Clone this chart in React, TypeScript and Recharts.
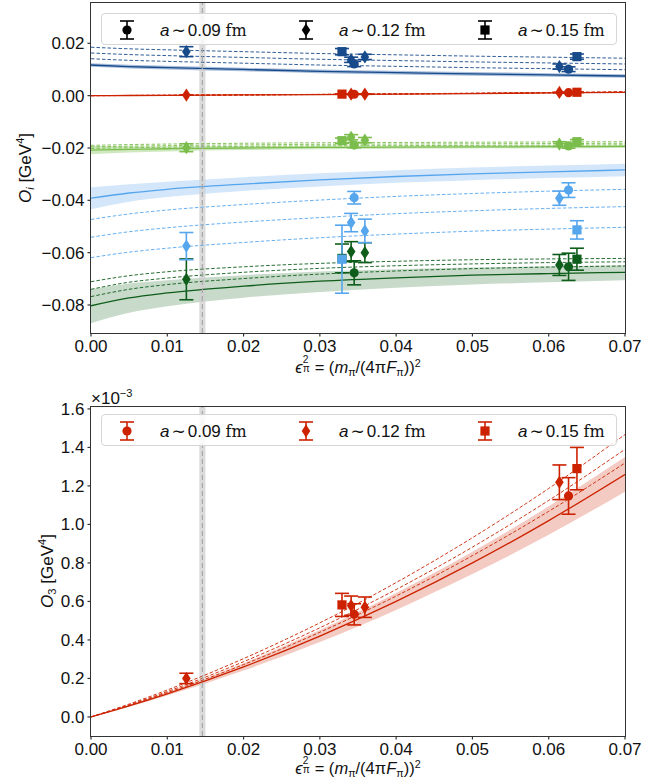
import React from 'react';
import {
  ComposedChart,
  XAxis,
  YAxis,
  Line,
  Area,
  Scatter,
  ErrorBar,
  ReferenceArea,
  ReferenceLine,
} from 'recharts';

const SANS = '"Liberation Sans", Arial, Helvetica, sans-serif';
const SERIF = '"DejaVu Serif", "Liberation Serif", serif';

const EPS_GRID = [0, 0.005, 0.01, 0.02, 0.03, 0.04, 0.05, 0.06, 0.07];
const X_TICKS = [0, 0.01, 0.02, 0.03, 0.04, 0.05, 0.06, 0.07];
const TOP_Y_TICKS = [-0.08, -0.06, -0.04, -0.02, 0, 0.02];
const BOTTOM_Y_TICKS = [0, 0.2, 0.4, 0.6, 0.8, 1.0, 1.2, 1.4, 1.6];

// lattice ensembles
const EPS_PTS = [0.0125, 0.0329, 0.0341, 0.0345, 0.0359, 0.0614, 0.0626, 0.0637];
const PT_MARKERS = ['diamond', 'square', 'diamond', 'circle', 'diamond', 'diamond', 'circle', 'square'];

// physical pion mass
const EPS_PHYS = 0.0146;

// dark blue operator
const DB_PTS = [0.0168, 0.0168, 0.0137, 0.0121, 0.0148, 0.0111, 0.0101, 0.0149];
const DB_ERR = [0.0019, 0.0012, 0.001, 0.001, 0.001, 0.001, 0.0009, 0.001];
const DB_FIT = [0.0117, 0.0111, 0.0107, 0.01, 0.0093, 0.0088, 0.0083, 0.0079, 0.0075];
const DB_LO = [0.011, 0.0104, 0.01, 0.0093, 0.0086, 0.0081, 0.0076, 0.0072, 0.0068];
const DB_HI = [0.0124, 0.0118, 0.0114, 0.0107, 0.01, 0.0095, 0.009, 0.0086, 0.0082];
const DB_A1 = [0.0185, 0.0179, 0.0175, 0.0168, 0.0161, 0.0156, 0.0151, 0.0147, 0.0143];
const DB_A2 = [0.0163, 0.0157, 0.0153, 0.0146, 0.0139, 0.0134, 0.0129, 0.0125, 0.0121];
const DB_A3 = [0.0141, 0.0135, 0.0131, 0.0124, 0.0117, 0.0112, 0.0107, 0.0103, 0.0099];

// light green operator
const LG_PTS = [-0.0199, -0.0172, -0.0159, -0.0189, -0.017, -0.0185, -0.0192, -0.0176];
const LG_ERR = [0.0015, 0.001, 0.001, 0.001, 0.001, 0.0009, 0.0009, 0.0008];
const LG_FIT = [-0.0208, -0.0205, -0.0203, -0.02, -0.0198, -0.0197, -0.0196, -0.0195, -0.0194];
const LG_LO = [-0.0224, -0.0217, -0.0213, -0.0208, -0.0205, -0.0203, -0.0202, -0.0201, -0.02];
const LG_HI = [-0.0192, -0.0193, -0.0193, -0.0192, -0.0191, -0.0191, -0.019, -0.0189, -0.0188];
const LG_A1 = [-0.019, -0.0187, -0.0185, -0.0182, -0.018, -0.0179, -0.0178, -0.0177, -0.0176];
const LG_A2 = [-0.0196, -0.0193, -0.0191, -0.0188, -0.0186, -0.0185, -0.0184, -0.0183, -0.0182];
const LG_A3 = [-0.0202, -0.0199, -0.0197, -0.0194, -0.0192, -0.0191, -0.019, -0.0189, -0.0188];

// light blue operator
const LB_PTS = [-0.0575, -0.0625, -0.0485, -0.039, -0.0517, -0.0392, -0.0361, -0.0513];
const LB_ERR = [0.0052, 0.013, 0.0035, 0.0024, 0.0045, 0.0027, 0.0028, 0.0035];
const LB_FIT = [-0.0392, -0.0372, -0.0358, -0.0338, -0.0322, -0.0309, -0.0299, -0.0291, -0.0284];
const LB_LO = [-0.0434, -0.0405, -0.0387, -0.0364, -0.0347, -0.0333, -0.0323, -0.0315, -0.0308];
const LB_HI = [-0.035, -0.0339, -0.0329, -0.0312, -0.0297, -0.0285, -0.0275, -0.0267, -0.026];
const LB_A1 = [-0.0473, -0.0452, -0.0437, -0.0416, -0.0399, -0.0385, -0.0374, -0.0365, -0.0358];
const LB_A2 = [-0.0541, -0.052, -0.0505, -0.0483, -0.0466, -0.0451, -0.044, -0.0431, -0.0424];
const LB_A3 = [-0.0619, -0.0598, -0.0583, -0.0561, -0.0543, -0.0529, -0.0518, -0.051, -0.0503];

// dark green operator
const DG_PTS = [-0.0702, -0.0622, -0.0596, -0.0677, -0.06, -0.0647, -0.0654, -0.0625];
const DG_ERR = [0.0078, 0.0055, 0.0038, 0.0046, 0.0038, 0.004, 0.0052, 0.0042];
const DG_FIT = [-0.0803, -0.0773, -0.0754, -0.0728, -0.0709, -0.0696, -0.0686, -0.068, -0.0675];
const DG_LO = [-0.087, -0.083, -0.0805, -0.0772, -0.075, -0.0734, -0.0722, -0.0713, -0.0705];
const DG_HI = [-0.074, -0.0718, -0.0705, -0.0686, -0.0672, -0.0663, -0.0657, -0.0652, -0.0648];
const DG_A1 = [-0.0711, -0.0688, -0.0673, -0.0654, -0.0641, -0.0633, -0.0627, -0.0624, -0.0622];
const DG_A2 = [-0.074, -0.0713, -0.0697, -0.0675, -0.066, -0.065, -0.0643, -0.0638, -0.0635];
const DG_A3 = [-0.0768, -0.074, -0.0722, -0.0699, -0.0682, -0.067, -0.0661, -0.0655, -0.0651];

// O3 in units of 1e-3 GeV^4
const O3_PTS = [0.2, 0.582, 0.578, 0.533, 0.57, 1.219, 1.148, 1.29];
const O3_ERR = [0.027, 0.06, 0.05, 0.055, 0.053, 0.09, 0.095, 0.11];
const O3_FIT = [0, 0.0575, 0.12, 0.26, 0.42, 0.6, 0.8, 1.02, 1.26];
const O3_LO = [0, 0.053, 0.111, 0.241, 0.389, 0.556, 0.742, 0.946, 1.17];
const O3_HI = [0, 0.062, 0.129, 0.279, 0.451, 0.644, 0.858, 1.094, 1.35];
const O3_A1 = [0, 0.067, 0.14, 0.303, 0.489, 0.698, 0.931, 1.187, 1.467];
const O3_A2 = [0, 0.063, 0.132, 0.287, 0.463, 0.662, 0.882, 1.125, 1.39];
const O3_A3 = [0, 0.06, 0.126, 0.272, 0.44, 0.628, 0.838, 1.068, 1.319];
const O3_UNIT = 1e-3;

const LEGEND_ITEMS = [
  { kind: 'circle', a: '0.09' },
  { kind: 'diamond', a: '0.12' },
  { kind: 'square', a: '0.15' },
];

const C_DB = '#174a8a';
const C_RED = '#cc2200';
const C_LG = '#7bbd4c';
const C_LB = '#56a6ee';
const C_DG = '#0e5d1b';

const scaled = (arr: number[], k: number) => arr.map((v) => v * k);

const OPS_TOP = [
  { id: 'db', color: C_DB, band: '#8eaacf', pts: DB_PTS, err: DB_ERR, fit: DB_FIT, lo: DB_LO, hi: DB_HI, a1: DB_A1, a2: DB_A2, a3: DB_A3 },
  { id: 'red', color: C_RED, band: '#eea99a', pts: scaled(O3_PTS, O3_UNIT), err: scaled(O3_ERR, O3_UNIT), fit: scaled(O3_FIT, O3_UNIT), lo: scaled(O3_LO, O3_UNIT), hi: scaled(O3_HI, O3_UNIT), a1: scaled(O3_A1, O3_UNIT), a2: scaled(O3_A2, O3_UNIT), a3: scaled(O3_A3, O3_UNIT) },
  { id: 'lg', color: C_LG, band: '#bfe0a8', pts: LG_PTS, err: LG_ERR, fit: LG_FIT, lo: LG_LO, hi: LG_HI, a1: LG_A1, a2: LG_A2, a3: LG_A3 },
  { id: 'dg', color: C_DG, band: '#b5cdb7', pts: DG_PTS, err: DG_ERR, fit: DG_FIT, lo: DG_LO, hi: DG_HI, a1: DG_A1, a2: DG_A2, a3: DG_A3 },
  { id: 'lb', color: C_LB, band: '#c4def8', pts: LB_PTS, err: LB_ERR, fit: LB_FIT, lo: LB_LO, hi: LB_HI, a1: LB_A1, a2: LB_A2, a3: LB_A3 },
];

const OPS_BOTTOM = [
  { id: 'o3', color: C_RED, band: '#f0b9ad', pts: O3_PTS, err: O3_ERR, fit: O3_FIT, lo: O3_LO, hi: O3_HI, a1: O3_A1, a2: O3_A2, a3: O3_A3 },
];

type Op = (typeof OPS_TOP)[number];

function curveRows(ops: Op[]) {
  return EPS_GRID.map((x, i) => {
    const row: any = { x };
    ops.forEach((op) => {
      row[op.id + 'Fit'] = op.fit[i];
      row[op.id + 'Band'] = [op.lo[i], op.hi[i]];
      row[op.id + 'A1'] = op.a1[i];
      row[op.id + 'A2'] = op.a2[i];
      row[op.id + 'A3'] = op.a3[i];
    });
    return row;
  });
}

function pointRows(op: Op) {
  return EPS_PTS.map((x, i) => ({ x, y: op.pts[i], err: op.err[i], kind: PT_MARKERS[i] }));
}

function Marker({ cx, cy, kind, color }: { cx: number; cy: number; kind: string; color: string }) {
  if (cx == null || cy == null) return null;
  if (kind === 'circle') return <circle cx={cx} cy={cy} r={4.6} fill={color} />;
  if (kind === 'square') return <rect x={cx - 4.6} y={cy - 4.6} width={9.2} height={9.2} fill={color} />;
  return (
    <polygon
      points={`${cx},${cy - 6.6} ${cx + 4.3},${cy} ${cx},${cy + 6.6} ${cx - 4.3},${cy}`}
      fill={color}
    />
  );
}

const tickStyle = { fontSize: 17, fill: '#111', fontFamily: SANS };

function Panel({
  ops,
  domain,
  yTicks,
  yFmt,
  height,
  margin,
}: {
  ops: Op[];
  domain: [number, number];
  yTicks: number[];
  yFmt: (v: number) => string;
  height: number;
  margin: { top: number; right: number; bottom: number; left: number };
}) {
  const rows = curveRows(ops);
  return (
    <ComposedChart width={663} height={height} data={rows} margin={margin}>
      <XAxis
        type="number"
        dataKey="x"
        domain={[0, 0.07]}
        ticks={X_TICKS}
        allowDataOverflow
        tickFormatter={(v: number) => v.toFixed(2)}
        axisLine={false}
        tickLine={{ stroke: '#333', strokeWidth: 1.2 }}
        tickSize={3.5}
        tickMargin={3}
        height={30}
        tick={tickStyle}
        interval={0}
      />
      <YAxis
        type="number"
        domain={domain}
        ticks={yTicks}
        allowDataOverflow
        tickFormatter={yFmt}
        axisLine={false}
        tickLine={{ stroke: '#333', strokeWidth: 1.2 }}
        tickSize={3.5}
        tickMargin={3}
        width={60}
        tick={tickStyle}
        interval={0}
      />
      {ops.map((op) => (
        <Area
          key={op.id + 'band'}
          type="monotone"
          dataKey={op.id + 'Band'}
          stroke="none"
          fill={op.band}
          fillOpacity={0.75}
          isAnimationActive={false}
          activeDot={false}
        />
      ))}
      {ops.map((op) => (
        <Line
          key={op.id + 'fit'}
          type="monotone"
          dataKey={op.id + 'Fit'}
          stroke={op.color}
          strokeWidth={1.3}
          dot={false}
          activeDot={false}
          isAnimationActive={false}
        />
      ))}
      {ops.flatMap((op) =>
        ['A1', 'A2', 'A3'].map((k) => (
          <Line
            key={op.id + k}
            type="monotone"
            dataKey={op.id + k}
            stroke={op.color}
            strokeWidth={0.9}
            strokeDasharray="3.5 2"
            dot={false}
            activeDot={false}
            isAnimationActive={false}
          />
        ))
      )}
      <ReferenceArea x1={EPS_PHYS - 0.0004} x2={EPS_PHYS + 0.0004} fill="#cfcfcf" fillOpacity={0.75} stroke="none" />
      <ReferenceLine x={EPS_PHYS} stroke="#a9a9a9" strokeWidth={1.2} strokeDasharray="5 3" />
      {ops.map((op) => (
        <Scatter
          key={op.id + 'pts'}
          data={pointRows(op)}
          dataKey="y"
          fill={op.color}
          isAnimationActive={false}
          shape={(p: any) => <Marker cx={p.cx} cy={p.cy} kind={p.payload?.kind} color={op.color} />}
        >
          <ErrorBar dataKey="err" direction="y" width={7} stroke={op.color} strokeWidth={1.6} />
        </Scatter>
      ))}
    </ComposedChart>
  );
}

function LegendGlyph({ kind, color }: { kind: string; color: string }) {
  return (
    <svg width={20} height={24} style={{ position: 'absolute', left: -10, top: -12 }}>
      <line x1={10} y1={3} x2={10} y2={21} stroke={color} strokeWidth={1.6} />
      <line x1={3} y1={3} x2={17} y2={3} stroke={color} strokeWidth={1.6} />
      <line x1={3} y1={21} x2={17} y2={21} stroke={color} strokeWidth={1.6} />
      <Marker cx={10} cy={12} kind={kind} color={color} />
    </svg>
  );
}

function LegendBox({ top, color }: { top: number; color: string }) {
  const glyphX = [25, 204, 383];
  const textX = [58, 237, 416];
  return (
    <div
      style={{
        position: 'absolute',
        left: 101,
        top,
        width: 516,
        height: 32,
        boxSizing: 'border-box',
        border: '1px solid #d6d6d6',
        borderRadius: 4,
        background: 'rgba(255,255,255,0.85)',
      }}
    >
      {LEGEND_ITEMS.map((it, i) => (
        <React.Fragment key={it.a}>
          <div style={{ position: 'absolute', left: glyphX[i], top: 15.5 }}>
            <LegendGlyph kind={it.kind} color={color} />
          </div>
          <div
            style={{
              position: 'absolute',
              left: textX[i],
              top: 15.5,
              transform: 'translateY(-50%)',
              fontFamily: SANS,
              fontSize: 17,
              color: '#111',
              whiteSpace: 'nowrap',
              lineHeight: 1,
            }}
          >
            <i>a</i>
            <span style={{ fontFamily: '"DejaVu Sans", sans-serif', margin: '0 2px' }}>∼</span>
            {it.a} <span style={{ fontFamily: SERIF, fontSize: 16 }}>fm</span>
          </div>
        </React.Fragment>
      ))}
    </div>
  );
}

function Frame({ top, height }: { top: number; height: number }) {
  return (
    <div
      style={{
        position: 'absolute',
        left: 90.2,
        top: top - 0.8,
        width: 535.6,
        height: height + 1.6,
        boxSizing: 'border-box',
        border: '1.5px solid #333',
        pointerEvents: 'none',
      }}
    />
  );
}

const subStyle: React.CSSProperties = { fontSize: '0.65em', verticalAlign: '-0.3em', lineHeight: 0 };
const supStyle: React.CSSProperties = { fontSize: '0.65em', verticalAlign: '0.55em', lineHeight: 0 };

// stacked superscript over subscript; the box spans [baseline - 1em, baseline]
function SupSub({ sup, sub }: { sup: string; sub: string }) {
  const s: React.CSSProperties = { position: 'absolute', left: 0, fontSize: '0.62em', lineHeight: 1 };
  return (
    <span style={{ position: 'relative', display: 'inline-block', width: '0.45em', height: '1em' }}>
      <span style={{ ...s, top: '-0.08em' }}>{sup}</span>
      <span style={{ ...s, top: '0.78em' }}>{sub}</span>
    </span>
  );
}

function XTitle({ top }: { top: number }) {
  return (
    <div
      style={{
        position: 'absolute',
        left: 358,
        top,
        height: 20,
        transform: 'translate(-50%, -50%)',
        fontFamily: SANS,
        fontSize: 16.5,
        color: '#111',
        whiteSpace: 'nowrap',
        lineHeight: '20px',
      }}
    >
      <i>ϵ</i>
      <SupSub sup="2" sub="π" /> = (<i>m</i>
      <span style={subStyle}>π</span>/(4π<i>F</i>
      <span style={subStyle}>π</span>))<span style={supStyle}>2</span>
    </div>
  );
}

function YTitle({ left, top, sub, italicSub }: { left: number; top: number; sub: string; italicSub: boolean }) {
  return (
    <div
      style={{
        position: 'absolute',
        left,
        top,
        transform: 'translate(-50%, -50%) rotate(-90deg)',
        fontFamily: SANS,
        fontSize: 17,
        color: '#111',
        whiteSpace: 'nowrap',
        lineHeight: 1,
      }}
    >
      <i>O</i>
      <span style={subStyle}>{italicSub ? <i>{sub}</i> : sub}</span> [GeV<span style={supStyle}>4</span>]
    </div>
  );
}

const fmtTop = (v: number) => v.toFixed(2).replace('-', '\u2212');
const fmtBottom = (v: number) => v.toFixed(1);

export default function App() {
  return (
    <div style={{ position: 'absolute', left: 0, top: 0, width: 663, height: 779, background: '#fff', overflow: 'hidden' }}>
      <div style={{ position: 'absolute', left: 0, top: 0 }}>
        <Panel
          ops={OPS_TOP}
          domain={[-0.0907, 0.0354]}
          yTicks={TOP_Y_TICKS}
          yFmt={fmtTop}
          height={392}
          margin={{ top: 3, right: 38, bottom: 29, left: 31 }}
        />
      </div>
      <Frame top={3} height={330} />
      <LegendBox top={13} color="#000" />
      <XTitle top={366} />
      <YTitle left={25} top={168} sub="i" italicSub />

      <div style={{ position: 'absolute', left: 0, top: 392 }}>
        <Panel
          ops={OPS_BOTTOM}
          domain={[-0.099, 1.61]}
          yTicks={BOTTOM_Y_TICKS}
          yFmt={fmtBottom}
          height={387}
          margin={{ top: 15, right: 38, bottom: 13, left: 31 }}
        />
      </div>
      <Frame top={407} height={329} />
      <LegendBox top={414} color={C_RED} />
      <XTitle top={767} />
      <YTitle left={47} top={571} sub="3" italicSub={false} />
      <div
        style={{
          position: 'absolute',
          left: 91,
          top: 398,
          transform: 'translateY(-50%)',
          fontFamily: SANS,
          fontSize: 17,
          color: '#111',
          whiteSpace: 'nowrap',
          lineHeight: 1,
        }}
      >
        ×10<span style={supStyle}>−3</span>
      </div>
    </div>
  );
}
